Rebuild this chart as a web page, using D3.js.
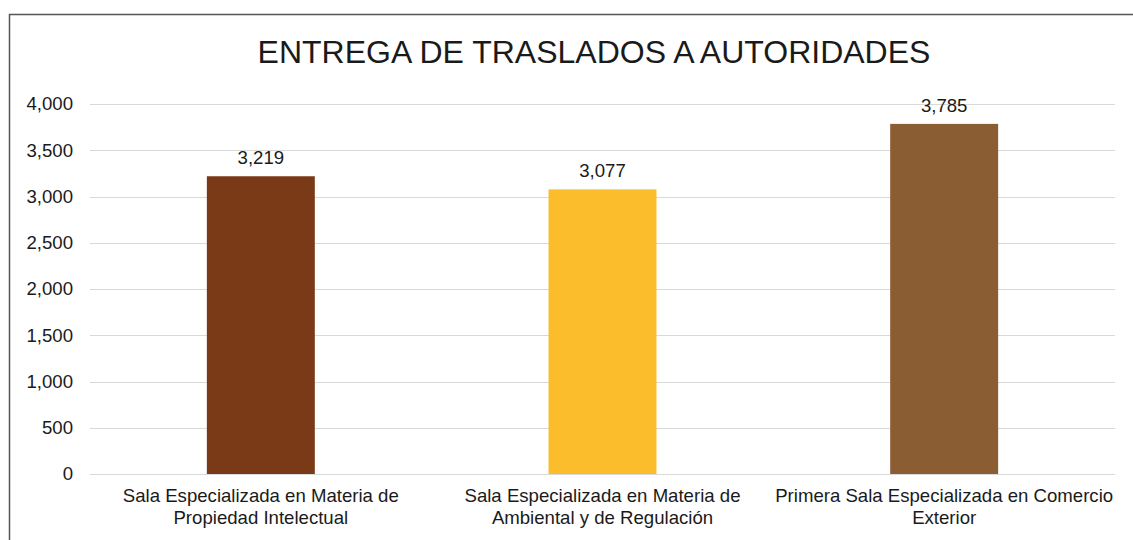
<!DOCTYPE html>
<html>
<head>
<meta charset="utf-8">
<script src="https://cdn.jsdelivr.net/npm/d3@7"></script>
<style>
  body { margin: 0; background: #fff; }
  svg text { font-family: "Liberation Sans", Arial, sans-serif; fill: #1a1a1a; }
</style>
</head>
<body>
<div id="chart"></div>
<script>
  'use strict';

  var categories = [
    ['Sala Especializada en Materia de', 'Propiedad Intelectual'],
    ['Sala Especializada en Materia de', 'Ambiental y de Regulación'],
    ['Primera Sala Especializada en Comercio', 'Exterior']
  ];
  var values = [3219, 3077, 3785];
  var barColors = ['#7b3a17', '#fbbd2b', '#8b5d33'];
  var yTicks = [0, 500, 1000, 1500, 2000, 2500, 3000, 3500, 4000];
  var title = 'ENTREGA DE TRASLADOS A AUTORIDADES';

  var width = 1133, height = 540;
  var plot = { left: 90, right: 1115, top: 104, bottom: 474 };
  var labelSize = '18.6px';

  var $svg = d3.select('#chart')
    .append('svg')
    .attr('width', width)
    .attr('height', height);

  // outer frame (runs off the right and bottom edges)
  $svg.append('rect')
    .attr('x', 9.5)
    .attr('y', 14.5)
    .attr('width', 1140)
    .attr('height', 560)
    .attr('fill', 'none')
    .attr('stroke', '#555')
    .attr('stroke-width', 1.5);

  $svg.append('text')
    .attr('x', 594)
    .attr('y', 63)
    .attr('text-anchor', 'middle')
    .style('font-size', '32px')
    .text(title);

  var x = d3.scaleBand()
    .domain(d3.range(values.length))
    .range([plot.left, plot.right])
    .paddingInner(0.684)
    .paddingOuter(0.342);

  var y = d3.scaleLinear()
    .domain([0, 4000])
    .range([plot.bottom, plot.top]);

  // gridlines
  $svg.append('g')
    .selectAll('line')
    .data(yTicks)
    .enter()
    .append('line')
    .attr('x1', plot.left)
    .attr('x2', plot.right)
    .attr('y1', function(d) { return Math.round(y(d)) + 0.5; })
    .attr('y2', function(d) { return Math.round(y(d)) + 0.5; })
    .attr('stroke', '#d9d9d9')
    .attr('stroke-width', 1.2);

  // y axis labels
  var yAxis = d3.axisLeft(y)
    .tickValues(yTicks)
    .tickSize(0)
    .tickPadding(0)
    .tickFormat(d3.format(','));

  var $yAxis = $svg.append('g')
    .attr('transform', 'translate(73,0)')
    .call(yAxis);
  $yAxis.select('.domain').remove();
  $yAxis.selectAll('text')
    .style('font-size', labelSize)
    .attr('font-family', null);

  // bars
  $svg.append('g')
    .selectAll('rect')
    .data(values)
    .enter()
    .append('rect')
    .attr('x', function(d, i) { return x(i); })
    .attr('y', function(d) { return y(d); })
    .attr('width', x.bandwidth())
    .attr('height', function(d) { return y(0) - y(d); })
    .attr('fill', function(d, i) { return barColors[i]; });

  // value labels
  $svg.append('g')
    .selectAll('text')
    .data(values)
    .enter()
    .append('text')
    .attr('x', function(d, i) { return x(i) + x.bandwidth() / 2; })
    .attr('y', function(d) { return y(d) - 12; })
    .attr('text-anchor', 'middle')
    .style('font-size', labelSize)
    .text(function(d) { return d3.format(',')(d); });

  // category labels
  var $cats = $svg.append('g')
    .selectAll('text')
    .data(categories)
    .enter()
    .append('text')
    .attr('text-anchor', 'middle')
    .style('font-size', labelSize);

  $cats.selectAll('tspan')
    .data(function(d, i) { return d.map(function(s) { return { s: s, i: i }; }); })
    .enter()
    .append('tspan')
    .attr('x', function(d) { return x(d.i) + x.bandwidth() / 2; })
    .attr('y', function(d, j) { return 502 + j * 22; })
    .text(function(d) { return d.s; });
</script>
</body>
</html>
